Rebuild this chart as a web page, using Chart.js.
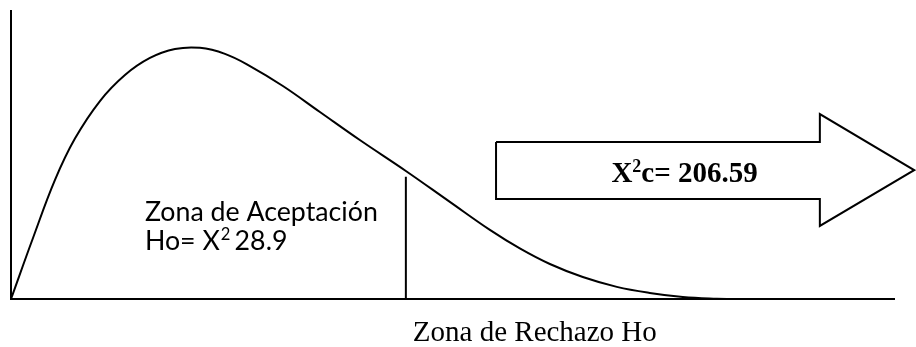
<!DOCTYPE html>
<html><head><meta charset="utf-8">
<script src="https://cdn.jsdelivr.net/npm/chart.js@4"></script>
<style>html,body{margin:0;padding:0;background:#fff;overflow:hidden;} canvas{display:block;}</style>
</head><body>
<canvas id="c" width="916" height="347"></canvas>
<script>
// Chi-square density curve (schematic)
const curveX = [0, 1.61, 3.22, 4.68, 6.51, 8.34, 10.17, 12.0, 13.83, 15.66, 17.49, 19.90, 22.61, 25.53, 28.90, 32.12, 35.05, 37.24, 39.44, 41.85, 44.34, 46.75, 49.17, 51.65, 52.82];
const curveY = [0, 21.1, 41.2, 55.5, 68.5, 77.5, 83.4, 86.5, 86.9, 84.8, 80.6, 73.7, 64.7, 55.0, 44.3, 33.6, 23.9, 17.5, 12.1, 7.6, 4.2, 2.1, 0.7, 0.07, 0];

// critical value line
const criticalValue = 28.9;
const criticalTop = 42.3;

// axis extents
const axisXMax = 64.7;
const axisYMax = 100;

// block arrow outline (data units)
const arrowX = [35.5, 59.2, 59.2, 66.1, 59.2, 59.2, 35.5, 35.5];
const arrowY = [54.3, 54.3, 64.0, 44.6, 25.3, 34.6, 34.6, 54.3];

// texts
const acceptLine1 = "Zona de Aceptación";
const acceptLine2a = "Ho= X";
const acceptSup = "2";
const acceptLine2b = "28.9";
const calcA = "X";
const calcSup = "2";
const calcB = "c= 206.59";
const rejectText = "Zona de Rechazo Ho";

const toPts = (xs, ys) => xs.map((x, i) => ({x, y: ys[i]}));

const textPlugin = {
  id: 'texts',
  afterDatasetsDraw(chart) {
    const ctx = chart.ctx, sx = chart.scales.x, sy = chart.scales.y;
    ctx.save();
    ctx.fillStyle = '#000';
    ctx.textBaseline = 'alphabetic';
    ctx.textAlign = 'left';
    // acceptance zone label (sans)
    let fs = 22;
    ctx.font = fs + 'px Lato';
    const w = ctx.measureText(acceptLine1).width;
    fs = fs * 233 / w;
    ctx.font = fs + 'px Lato';
    let x0 = sx.getPixelForValue(9.8);
    ctx.fillText(acceptLine1, x0, sy.getPixelForValue(27.0));
    let yb = sy.getPixelForValue(17.0);
    ctx.fillText(acceptLine2a, x0, yb);
    let x = x0 + ctx.measureText(acceptLine2a).width + 1;
    ctx.font = (fs * 0.62) + 'px Lato';
    ctx.fillText(acceptSup, x, yb - fs * 0.36);
    x += ctx.measureText(acceptSup).width + ctx.measureText(' ').width;
    ctx.font = fs + 'px Lato';
    ctx.fillText(acceptLine2b, x, yb);

    // calculated value inside arrow (bold serif)
    const cf = 29;
    const big = 'bold ' + cf + 'px "Liberation Serif"';
    const small = 'bold ' + (cf * 0.62) + 'px "Liberation Serif"';
    ctx.font = big;
    const wA = ctx.measureText(calcA).width, wB = ctx.measureText(calcB).width;
    ctx.font = small;
    const wS = ctx.measureText(calcSup).width;
    const total = wA + wS + wB;
    let cx = sx.getPixelForValue(49.3) - total / 2;
    const cy = sy.getPixelForValue(40.5);
    ctx.font = big; ctx.fillText(calcA, cx, cy); cx += wA;
    ctx.font = small; ctx.fillText(calcSup, cx, cy - cf * 0.36); cx += wS;
    ctx.font = big; ctx.fillText(calcB, cx, cy);

    // rejection zone label
    ctx.font = '29px "Liberation Serif"';
    ctx.fillText(rejectText, sx.getPixelForValue(29.41), sy.getPixelForValue(-14.5));
    ctx.restore();
  }
};

const common = {pointRadius: 0, borderColor: '#000', borderWidth: 2, fill: false, clip: false};

new Chart(document.getElementById('c'), {
  type: 'line',
  data: {
    datasets: [
      Object.assign({data: [{x: 0, y: axisYMax}, {x: 0, y: 0}, {x: axisXMax, y: 0}], tension: 0, borderJoinStyle: 'miter'}, common),
      Object.assign({data: toPts(curveX, curveY), tension: 0.4}, common),
      Object.assign({data: [{x: criticalValue, y: 0}, {x: criticalValue, y: criticalTop}], tension: 0}, common),
      Object.assign({data: toPts(arrowX, arrowY), tension: 0, borderJoinStyle: 'miter'}, common)
    ]
  },
  options: {
    responsive: false,
    animation: false,
    events: [],
    layout: {padding: {left: 11, top: 10, right: 21, bottom: 48}},
    scales: {
      x: {type: 'linear', display: false, min: 0, max: axisXMax},
      y: {type: 'linear', display: false, min: 0, max: axisYMax}
    },
    plugins: {legend: {display: false}, tooltip: {enabled: false}}
  },
  plugins: [textPlugin]
});
</script>
</body></html>
